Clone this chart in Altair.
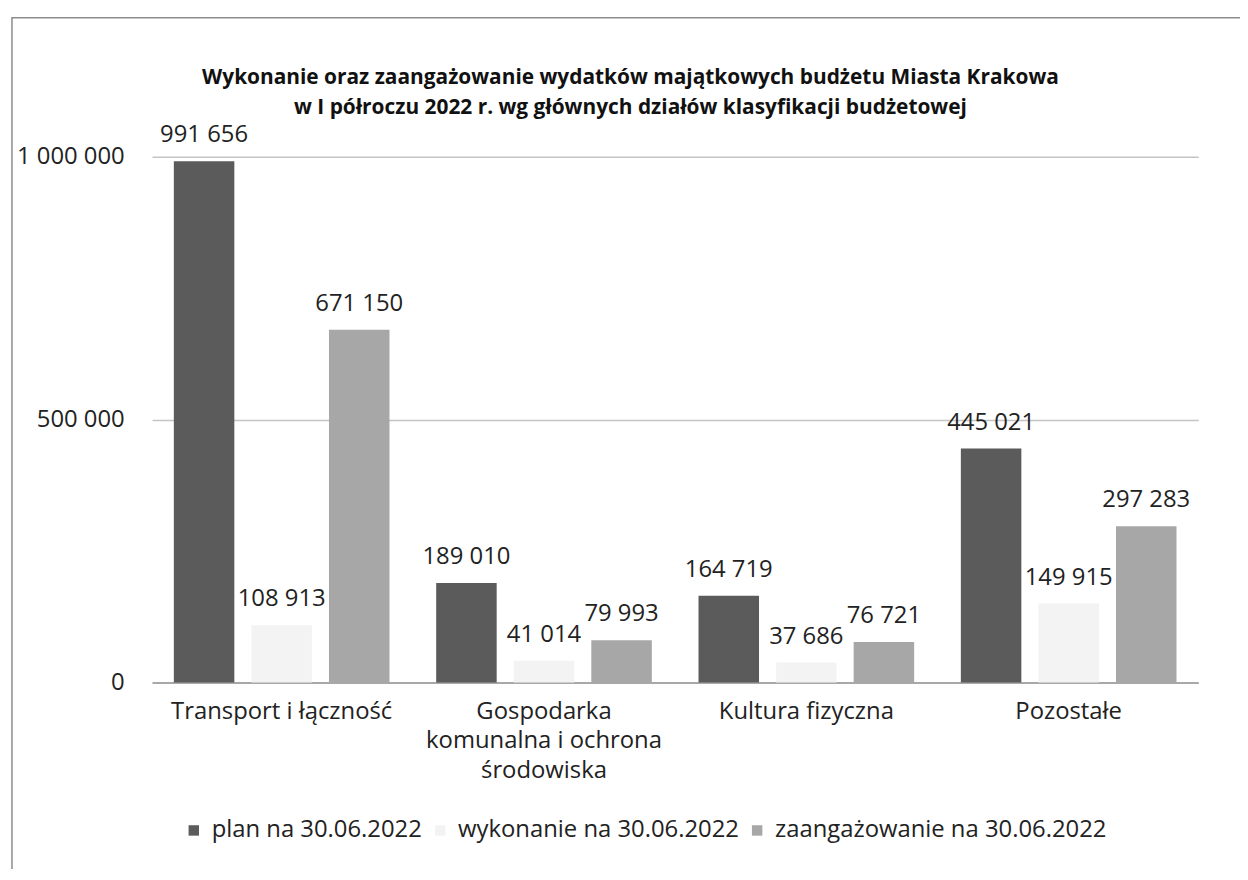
import altair as alt
import pandas as pd

categories = ["Transport i łączność", "Gospodarka\nkomunalna i ochrona\nśrodowiska", "Kultura fizyczna", "Pozostałe"]
series = ["plan na 30.06.2022", "wykonanie na 30.06.2022", "zaangażowanie na 30.06.2022"]
plan = [991656, 189010, 164719, 445021]
wykonanie = [108913, 41014, 37686, 149915]
zaangazowanie = [671150, 79993, 76721, 297283]
colors = ["#5b5b5b", "#f3f3f3", "#a7a7a7"]
y_ticks = [0, 500000, 1000000]
title_lines = [
    "Wykonanie oraz zaangażowanie wydatków majątkowych budżetu Miasta Krakowa",
    "w I półroczu 2022 r. wg głównych działów klasyfikacji budżetowej",
]

rows = []
for s, vals in zip(series, [plan, wykonanie, zaangazowanie]):
    for c, v in zip(categories, vals):
        rows.append({"kategoria": c, "seria": s, "wartosc": v,
                     "etykieta": f"{v:,}".replace(",", " ")})
df = pd.DataFrame(rows)

FONT = "Open Sans"
FS = 24

x = alt.X("kategoria:N", sort=categories,
          scale=alt.Scale(paddingInner=0.178, paddingOuter=0.083),
          axis=alt.Axis(title=None, labelAngle=0, labelExpr="split(datum.label, '\\n')",
                        labelFontSize=FS, labelFont=FONT, labelColor="#222",
                        labelLineHeight=30, labelPadding=17, labelLimit=500,
                        domainColor="#9a9a9a", domainWidth=1.5, ticks=False, grid=False))
xo = alt.XOffset("seria:N", sort=series, scale=alt.Scale(paddingInner=0.22, paddingOuter=0))
y = alt.Y("wartosc:Q", scale=alt.Scale(domain=[0, 1000000]),
          axis=alt.Axis(title=None, values=y_ticks,
                        labelExpr="replace(format(datum.value, ',d'), regexp(',', 'g'), ' ')",
                        labelFontSize=FS, labelFont=FONT, labelColor="#222", labelPadding=28,
                        grid=True, gridColor="#c4c4c4", gridWidth=1.5, domain=False, ticks=False))

base = alt.Chart(df)
bars = base.mark_bar().encode(
    x=x, xOffset=xo, y=y,
    color=alt.Color("seria:N", sort=series,
                    scale=alt.Scale(domain=series, range=colors),
                    legend=alt.Legend(title=None, orient="none", legendX=30, legendY=666,
                                      direction="horizontal", symbolType="square", symbolSize=110,
                                      symbolStrokeWidth=0, labelFontSize=FS, labelFont=FONT,
                                      labelColor="#222", columnPadding=6, labelOffset=6,
                                      padding=0, labelLimit=500)),
)
labels = base.mark_text(dy=-26, fontSize=FS, font=FONT, color="#222").encode(
    x=x, xOffset=xo, y=y, text="etykieta:N")

frame = alt.Chart(alt.Data(values=[{"f": 1}])).mark_rect(
    filled=False, stroke="#8c8c8c", strokeWidth=1.5).encode(
    x=alt.value(-141), x2=alt.value(1200), y=alt.value(-140), y2=alt.value(900))

chart = alt.layer(frame, bars, labels).properties(
    width=1053, height=529,
    autosize=alt.AutoSizeParams(type="none"),
    padding={"left": 145, "top": 147, "right": 42, "bottom": 185},
    title=alt.TitleParams(text=title_lines, fontSize=21, font=FONT, fontWeight="bold",
                          lineHeight=31, anchor="middle", dx=-45, dy=106, offset=4, color="#111"),
).configure_view(stroke=None)

chart.save("out.html", embed_options={"renderer": "svg", "actions": False})
